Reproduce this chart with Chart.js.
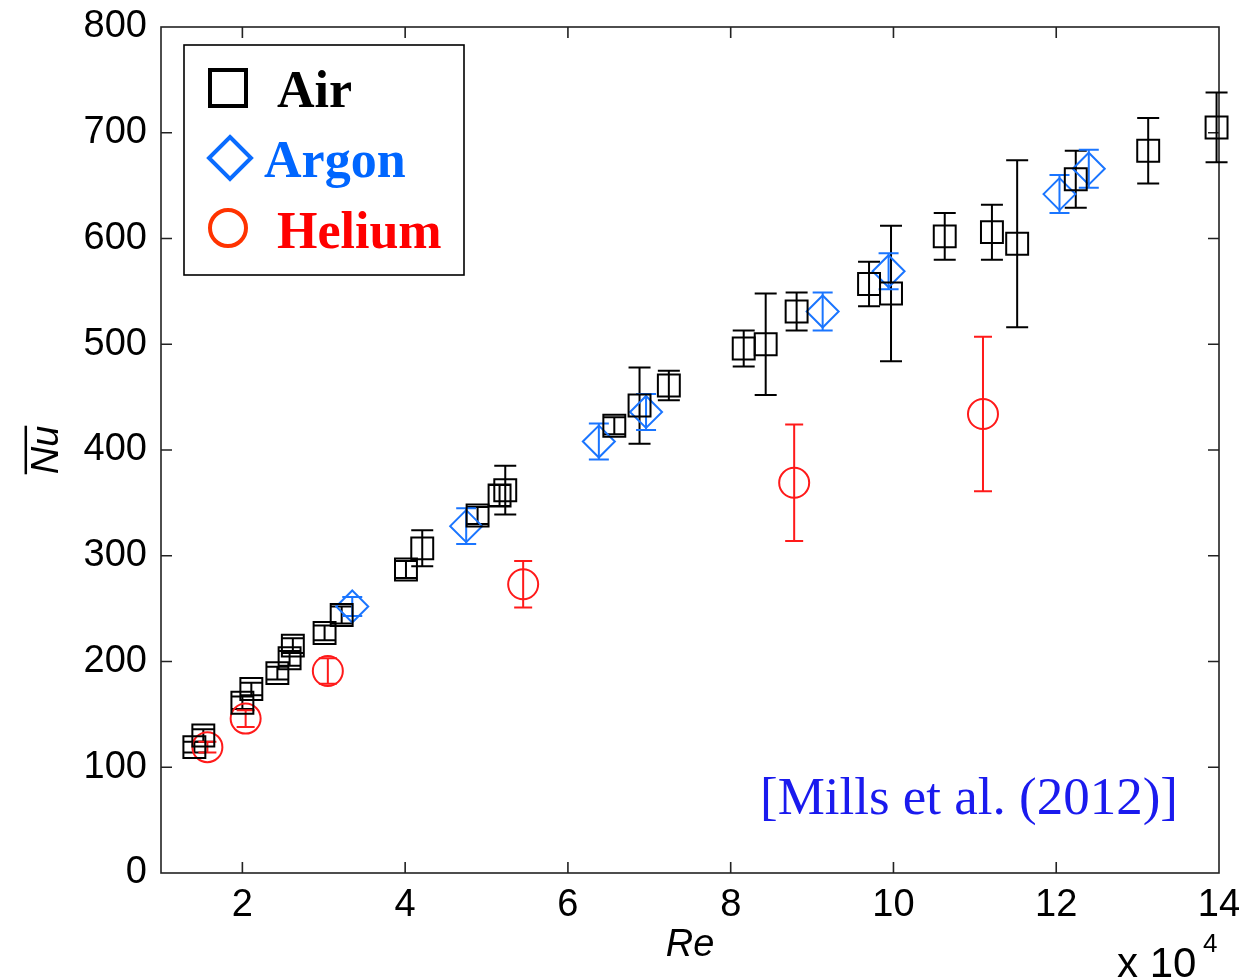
<!DOCTYPE html>
<html>
<head>
<meta charset="utf-8">
<script src="https://cdn.jsdelivr.net/npm/chart.js@4.4.0/dist/chart.umd.min.js"></script>
<style>
    html, body { margin: 0; padding: 0; background: #fff; }
    #wrap { width: 1243px; height: 978px; }
</style>
</head>
<body>
<div id="wrap"><canvas id="nuChart" width="1243" height="978"></canvas></div>
<script>
// Re (x 10^4), mean Nu and error half-width for each gas
const airRe  = [1.41, 1.52, 2.00, 2.11, 2.43, 2.58, 2.62, 3.01, 3.22, 4.01, 4.21, 4.89, 5.16, 5.23, 6.57, 6.88, 7.24, 8.16, 8.43, 8.81, 9.70, 9.97, 10.63, 11.21, 11.52, 12.24, 13.13, 13.97];
const airNu  = [119, 130, 161, 174, 189, 203, 215, 227, 244, 287, 307, 338, 357, 362, 423, 442, 461, 496, 500, 531, 557, 548, 602, 606, 595, 656, 683, 705];
const airErr = [5, 6, 6, 6, 6, 7, 7, 7, 8, 8, 17, 8, 10, 23, 8, 36, 14, 17, 48, 18, 21, 64, 22, 26, 79, 27, 31, 33];

const argonRe  = [3.35, 4.75, 6.38, 6.96, 9.13, 9.94, 12.04, 12.40];
const argonNu  = [252, 328, 408, 436, 531, 569, 642, 666];
const argonErr = [9, 17, 17, 17, 18, 17, 18, 18];

const heliumRe  = [1.57, 2.04, 3.05, 5.45, 8.78, 11.10];
const heliumNu  = [119, 146, 191, 273, 369, 434];
const heliumErr = [5, 8, 12, 22, 55, 73];

const xTickValues = [2, 4, 6, 8, 10, 12, 14];
const yTickValues = [0, 100, 200, 300, 400, 500, 600, 700, 800];

const tickFont = { family: 'Liberation Sans', size: 38 };

function toPoints(xs, ys) {
    return xs.map((x, i) => ({ x: x, y: ys[i] }));
}

// error bars drawn through the scales
const errorBars = {
    id: 'errorBars',
    beforeDatasetsDraw(chart) {
        const ctx = chart.ctx;
        const xs = chart.scales.x, ys = chart.scales.y;
        chart.data.datasets.forEach(ds => {
            ctx.save();
            ctx.strokeStyle = ds.borderColor;
            ctx.lineWidth = 2;
            ds.data.forEach((p, i) => {
                const e = ds.errors[i];
                const px = xs.getPixelForValue(p.x);
                const top = ys.getPixelForValue(p.y + e);
                const bot = ys.getPixelForValue(p.y - e);
                const cap = ds.capHalf;
                ctx.beginPath();
                ctx.moveTo(px, top); ctx.lineTo(px, bot);
                ctx.moveTo(px - cap, top); ctx.lineTo(px + cap, top);
                ctx.moveTo(px - cap, bot); ctx.lineTo(px + cap, bot);
                ctx.stroke();
            });
            ctx.restore();
        });
    }
};

// MATLAB style box with inward ticks
const axesBox = {
    id: 'axesBox',
    beforeDatasetsDraw(chart) {
        const ctx = chart.ctx;
        const a = chart.chartArea;
        const xs = chart.scales.x, ys = chart.scales.y;
        ctx.save();
        ctx.strokeStyle = '#222';
        ctx.lineWidth = 1.6;
        ctx.strokeRect(a.left, a.top, a.right - a.left, a.bottom - a.top);
        ctx.beginPath();
        xs.ticks.forEach(t => {
            const px = xs.getPixelForValue(t.value);
            if (px <= a.left + 1 || px >= a.right - 1) return;
            ctx.moveTo(px, a.bottom); ctx.lineTo(px, a.bottom - 11);
            ctx.moveTo(px, a.top); ctx.lineTo(px, a.top + 11);
        });
        ys.ticks.forEach(t => {
            const py = ys.getPixelForValue(t.value);
            if (py <= a.top + 1 || py >= a.bottom - 1) return;
            ctx.moveTo(a.left, py); ctx.lineTo(a.left + 11, py);
            ctx.moveTo(a.right, py); ctx.lineTo(a.right - 11, py);
        });
        ctx.stroke();
        ctx.restore();
    }
};

const annotations = {
    id: 'annotations',
    afterDraw(chart) {
        const ctx = chart.ctx;
        const ys = chart.scales.y;
        ctx.save();

        // overline on the Nu title
        const lh = 38 * 1.2;
        const cx = ys.left + lh / 2 + 25;
        const cy = (ys.top + ys.bottom) / 2;
        ctx.font = 'italic 38px "Liberation Sans"';
        const w = ctx.measureText('Nu').width;
        ctx.strokeStyle = '#000';
        ctx.lineWidth = 2.5;
        ctx.beginPath();
        ctx.moveTo(cx - 22, cy - w / 2);
        ctx.lineTo(cx - 22, cy + w / 2);
        ctx.stroke();

        // exponent label
        ctx.fillStyle = '#000';
        ctx.textBaseline = 'alphabetic';
        ctx.textAlign = 'left';
        ctx.font = '42px "Liberation Sans"';
        ctx.fillText('x 10', 1117, 977);
        ctx.font = '26px "Liberation Sans"';
        ctx.fillText('4', 1203, 952);

        // source note
        ctx.font = '53px "Liberation Serif"';
        ctx.fillStyle = '#1a1aee';
        ctx.fillText('[Mills et al. (2012)]', 760, 814);

        // legend
        ctx.fillStyle = '#fff';
        ctx.fillRect(184, 45, 280, 230);
        ctx.strokeStyle = '#000';
        ctx.lineWidth = 1.6;
        ctx.strokeRect(184, 45, 280, 230);

        const sets = chart.data.datasets;
        ctx.lineWidth = 4;
        // Air
        ctx.strokeStyle = '#000';
        ctx.strokeRect(228 - 18, 88 - 18, 36, 36);
        // Argon
        ctx.strokeStyle = '#0a6cff';
        ctx.beginPath();
        ctx.moveTo(230, 137); ctx.lineTo(251, 158); ctx.lineTo(230, 179); ctx.lineTo(209, 158);
        ctx.closePath();
        ctx.stroke();
        // Helium
        ctx.strokeStyle = '#ff3300';
        ctx.beginPath();
        ctx.arc(228, 228, 18, 0, Math.PI * 2);
        ctx.stroke();

        ctx.font = 'bold 52px "Liberation Serif"';
        ctx.fillStyle = '#000';
        ctx.fillText(sets[0].label, 277, 107);
        ctx.fillStyle = '#0066ff';
        ctx.fillText(sets[1].label, 264, 177);
        ctx.fillStyle = '#ff0000';
        ctx.fillText(sets[2].label, 277, 248);
        ctx.restore();
    }
};

const ctx = document.getElementById('nuChart').getContext('2d');
new Chart(ctx, {
    type: 'scatter',
    data: {
        datasets: [{
            label: 'Air',
            data: toPoints(airRe, airNu),
            errors: airErr,
            capHalf: 11,
            pointStyle: 'rect',
            pointRadius: 15.5,
            borderColor: '#000',
            backgroundColor: 'rgba(0,0,0,0)',
            borderWidth: 2,
            clip: false
        }, {
            label: 'Argon',
            data: toPoints(argonRe, argonNu),
            errors: argonErr,
            capHalf: 10,
            pointStyle: 'rectRot',
            pointRadius: 16,
            borderColor: '#1a75ff',
            backgroundColor: 'rgba(0,0,0,0)',
            borderWidth: 2,
            clip: false
        }, {
            label: 'Helium',
            data: toPoints(heliumRe, heliumNu),
            errors: heliumErr,
            capHalf: 9,
            pointStyle: 'circle',
            pointRadius: 15,
            borderColor: '#ff1a1a',
            backgroundColor: 'rgba(0,0,0,0)',
            borderWidth: 2,
            clip: false
        }]
    },
    options: {
        responsive: false,
        animation: false,
        devicePixelRatio: 1,
        layout: { padding: { top: 27, right: 24, bottom: 0, left: 0 } },
        plugins: {
            legend: { display: false },
            tooltip: { enabled: false }
        },
        scales: {
            x: {
                type: 'linear',
                min: 1,
                max: 14,
                afterBuildTicks: s => { s.ticks = xTickValues.map(v => ({ value: v })); },
                afterFit: s => { s.height = 105; s.paddingLeft = 0; s.paddingRight = 0; },
                grid: { display: false },
                border: { display: false },
                ticks: { font: tickFont, color: '#000', padding: 2, maxRotation: 0, autoSkip: false },
                title: {
                    display: true,
                    text: 'Re',
                    color: '#000',
                    font: { family: 'Liberation Sans', size: 38, style: 'italic' },
                    padding: { top: 0, bottom: 10 }
                }
            },
            y: {
                min: 0,
                max: 800,
                afterBuildTicks: s => { s.ticks = yTickValues.map(v => ({ value: v })); },
                afterFit: s => { s.width = 161; s.paddingTop = 0; s.paddingBottom = 0; },
                grid: { display: false },
                border: { display: false },
                ticks: { font: tickFont, color: '#000', padding: 6, autoSkip: false },
                title: {
                    display: true,
                    text: 'Nu',
                    color: '#000',
                    font: { family: 'Liberation Sans', size: 38, style: 'italic' },
                    padding: { top: 25, bottom: 0 }
                }
            }
        }
    },
    plugins: [axesBox, errorBars, annotations]
});
</script>
</body>
</html>
